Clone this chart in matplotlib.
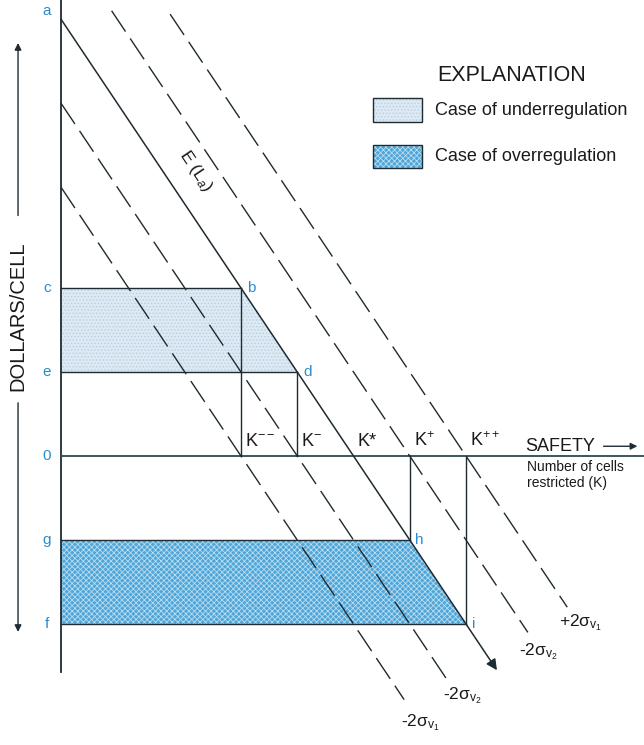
import matplotlib
import numpy as np
import matplotlib.pyplot as plt
from matplotlib.patches import Polygon, Rectangle

matplotlib.use('Agg')
plt.rcParams['font.family'] = ['Liberation Sans', 'DejaVu Sans']
plt.rcParams['mathtext.fontset'] = 'custom'
plt.rcParams['mathtext.rm'] = 'Liberation Sans'
plt.rcParams['mathtext.it'] = 'Liberation Sans:italic'
plt.rcParams['hatch.linewidth'] = 0.6

# x-intercepts (K) of the five parallel loss lines, y = K - x
line_K = [3.2, 4.2, 5.2, 6.2, 7.2]
line_start = [0.0, 0.0, 0.0, 0.9, 1.94]
line_end = [6.1, 6.9, 7.75, 8.3, 9.0]
line_names = ['-2$\\mathregular{\\sigma_{v_1}}$', '-2$\\mathregular{\\sigma_{v_2}}$', 'E',
              '-2$\\mathregular{\\sigma_{v_2}}$', '+2$\\mathregular{\\sigma_{v_1}}$']
K_labels = ['K$\\mathregular{^{--}}$', 'K$\\mathregular{^{-}}$', 'K*',
            'K$\\mathregular{^{+}}$', 'K$\\mathregular{^{++}}$']

# dollar levels on the vertical axis
axis_letters = ['a', 'c', 'e', '0', 'g', 'f']
axis_levels = [5.3, 2, 1, 0, -1, -2]
# corner points on E(La)
corner_letters = ['b', 'd', 'h', 'i']
corner_levels = [2, 1, -1, -2]

line_col = '#1e2b30'
txt_col = '#1a1a1a'
blue = '#2a8ccc'
under_face, under_hatch = '#dde9f3', '#b5cfe4'
over_face, over_hatch = '#4fa6d8', '#b9dcf0'

fig = plt.figure(figsize=(6.44, 7.45), dpi=100)
ax = fig.add_axes([0, 0, 1, 1])
ax.set_xlim(-61 / 56.25, (644 - 61) / 56.25)
ax.set_ylim((456 - 745) / 84, 456 / 84)
ax.axis('off')


def shaded(pts, face, hatch, hcol):
    ax.add_patch(Polygon(pts, closed=True, facecolor=face, edgecolor='none', zorder=1))
    ax.add_patch(Polygon(pts, closed=True, facecolor='none', edgecolor=hcol,
                         hatch=hatch, lw=0, zorder=1.1))


# shaded areas between levels, bounded by E(La)
Ks = line_K[2]
c, e, g, f = 2, 1, -1, -2
shaded([(0, c), (Ks - c, c), (Ks - e, e), (0, e)], under_face, '.....', under_hatch)
shaded([(0, g), (Ks - g, g), (Ks - f, f), (0, f)], over_face, 'xxxxxx', over_hatch)

# axes
ax.plot([0, 0], [5.45, -2.57], color=line_col, lw=1.3, zorder=3)
ax.plot([0, 11], [0, 0], color='#2b4a52', lw=1.3, zorder=3)

# horizontal level lines and verticals down to the K axis
for lev in [c, e, g, f]:
    ax.plot([0, Ks - lev], [lev, lev], color=line_col, lw=1.0, zorder=3)
    ax.plot([Ks - lev, Ks - lev], [0, lev], color=line_col, lw=1.0, zorder=3)

# loss lines
for i, k in enumerate(line_K):
    xs = np.array([line_start[i], line_end[i]])
    ys = k - xs
    if i == 2:
        ax.annotate('', xy=(xs[1], ys[1]), xytext=(xs[0], ys[0]),
                    arrowprops=dict(arrowstyle='-|>', color=line_col, lw=1.1,
                                    mutation_scale=16, shrinkA=0, shrinkB=0), zorder=4)
    else:
        ax.plot(xs, ys, color=line_col, lw=1.0, dashes=(18, 6), zorder=4)

# line labels
lab_pos = [(6.05, -3.18), (6.8, -2.85), None, (8.15, -2.33), (8.85, -1.99)]
for i, p in enumerate(lab_pos):
    if p is None:
        continue
    ax.text(p[0], p[1], line_names[i], fontsize=12.5, color=txt_col, ha='left', va='center')
ax.text(2.4, 3.4, 'E (L$_a$)', fontsize=12.5, color=txt_col, rotation=-56.2,
        ha='center', va='center')

# K labels
for k, lab in zip(line_K, K_labels):
    ax.text(k + 0.07, 0.07, lab, fontsize=13, color=txt_col, ha='left', va='bottom')

# letters
for lab, lev in zip(axis_letters, axis_levels):
    ax.text(-0.25, lev, lab, fontsize=11, color=blue, ha='center', va='center')
for lab, lev in zip(corner_letters, corner_levels):
    ax.text(Ks - lev + 0.1, lev, lab, fontsize=11, color=blue, ha='left', va='center')

# axis titles
ax.text(0.815, 0.401, 'SAFETY', transform=ax.transAxes, fontsize=13,
        color=txt_col, ha='left', va='center')
ax.annotate('', xy=(0.994, 0.401), xytext=(0.933, 0.401), xycoords='axes fraction',
            arrowprops=dict(arrowstyle='-|>', color=line_col, lw=1.0, mutation_scale=10))
ax.text(0.818, 0.362, 'Number of cells\nrestricted (K)', transform=ax.transAxes,
        fontsize=10, color=txt_col, ha='left', va='center', linespacing=1.15)

ax.text(0.028, 0.576, 'DOLLARS/CELL', transform=ax.transAxes, fontsize=14.5,
        color=txt_col, rotation=90, ha='center', va='center')
ax.annotate('', xy=(0.028, 0.946), xytext=(0.028, 0.707), xycoords='axes fraction',
            arrowprops=dict(arrowstyle='-|>', color=line_col, lw=1.0, mutation_scale=10))
ax.annotate('', xy=(0.028, 0.148), xytext=(0.028, 0.463), xycoords='axes fraction',
            arrowprops=dict(arrowstyle='-|>', color=line_col, lw=1.0, mutation_scale=10))

# explanation
ax.text(0.795, 0.899, 'EXPLANATION', transform=ax.transAxes, fontsize=15.5,
        color=txt_col, ha='center', va='center')
boxes = [(0.836, under_face, '.....', under_hatch, 'Case of underregulation'),
         (0.774, over_face, 'xxxxxx', over_hatch, 'Case of overregulation')]
for yb, face, hatch, hcol, txt in boxes:
    ax.add_patch(Rectangle((0.579, yb), 0.076, 0.032, transform=ax.transAxes,
                           facecolor=face, edgecolor='none'))
    ax.add_patch(Rectangle((0.579, yb), 0.076, 0.032, transform=ax.transAxes,
                           facecolor='none', edgecolor=hcol, hatch=hatch, lw=0))
    ax.add_patch(Rectangle((0.579, yb), 0.076, 0.032, transform=ax.transAxes,
                           facecolor='none', edgecolor=line_col, lw=1.0))
    ax.text(0.676, yb + 0.016, txt, transform=ax.transAxes, fontsize=13,
            color=txt_col, ha='left', va='center')

fig.savefig('out.png', dpi=100)
